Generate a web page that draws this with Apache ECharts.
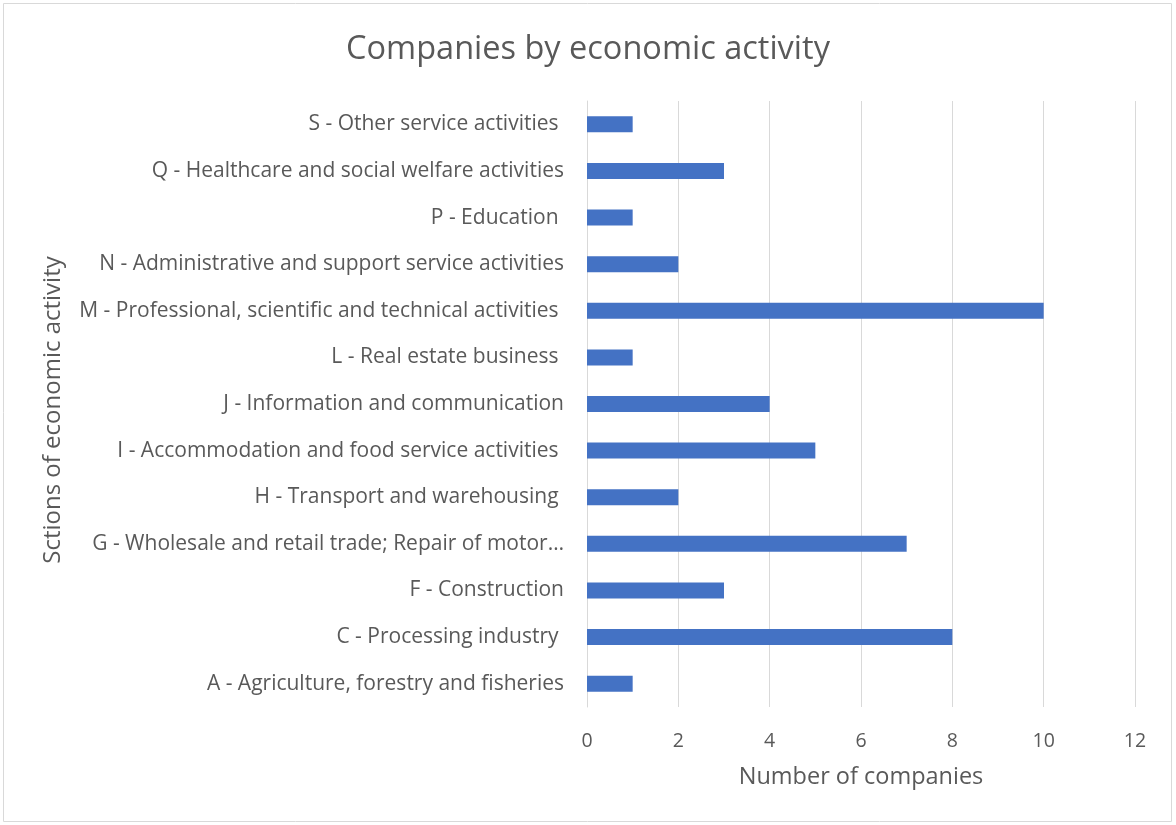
<!DOCTYPE html>
<html>
<head>
<meta charset="utf-8">
<script src="https://cdn.jsdelivr.net/npm/echarts@6/dist/echarts.min.js"></script>
<style>
html,body{margin:0;padding:0;background:#fff;}
#c{width:1176px;height:825px;}
</style>
</head>
<body>
<div id="c"></div>
<script>
const categories = [
  "A - Agriculture, forestry and fisheries",
  "C - Processing industry ",
  "F - Construction",
  "G - Wholesale and retail trade; Repair of motor\u2026",
  "H - Transport and warehousing ",
  "I - Accommodation and food service activities ",
  "J - Information and communication",
  "L - Real estate business ",
  "M - Professional, scientific and technical activities ",
  "N - Administrative and support service activities",
  "P - Education ",
  "Q - Healthcare and social welfare activities",
  "S - Other service activities "
];
const values = [1, 8, 3, 7, 2, 5, 4, 1, 10, 2, 1, 3, 1];
const titleText = "Companies by economic activity";
const xName = "Number of companies";
const yName = "Sctions of economic activity";

const chart = echarts.init(document.getElementById('c'), null, {renderer: 'canvas'});
const font = "Open Sans";
chart.setOption({
  animation: false,
  textStyle: {fontFamily: font},
  title: {
    text: titleText,
    left: 'center',
    top: 28,
    textStyle: {fontFamily: font, fontSize: 32.5, fontWeight: 'normal', color: '#595959'}
  },
  graphic: [{
    type: 'rect',
    shape: {x: 3.5, y: 3.5, width: 1168, height: 818},
    style: {fill: 'none', stroke: '#d9d9d9', lineWidth: 1},
    silent: true
  }],
  grid: {left: 587, right: 41, top: 101, bottom: 118, containLabel: false},
  xAxis: {
    type: 'value',
    min: 0, max: 12, interval: 2,
    name: xName,
    nameLocation: 'middle',
    nameGap: 58,
    nameTextStyle: {fontFamily: font, fontSize: 23.5, color: '#595959'},
    axisLine: {show: false},
    axisTick: {show: false},
    axisLabel: {fontFamily: font, fontSize: 19.5, color: '#595959', margin: 24},
    splitLine: {show: true, lineStyle: {color: '#d9d9d9', width: 1}}
  },
  yAxis: {
    type: 'category',
    data: categories,
    name: yName,
    nameLocation: 'middle',
    nameGap: 522,
    nameRotate: 90,
    nameTextStyle: {fontFamily: font, fontSize: 24, color: '#595959', padding: [0, 12, 0, 0]},
    axisLine: {show: true, lineStyle: {color: '#d9d9d9', width: 1}},
    axisTick: {show: false},
    axisLabel: {fontFamily: font, fontSize: 21, color: '#595959', margin: 23}
  },
  series: [{
    type: 'bar',
    data: values,
    barWidth: 16,
    itemStyle: {color: '#4472C4'}
  }]
});
</script>
</body>
</html>
